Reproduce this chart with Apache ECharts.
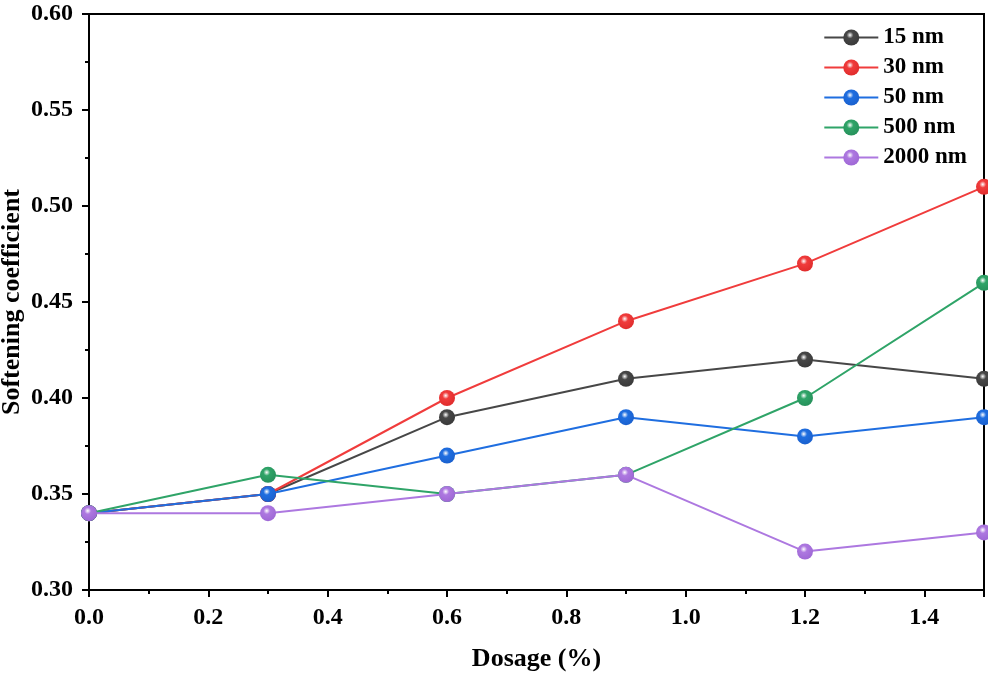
<!DOCTYPE html>
<html>
<head>
<meta charset="utf-8">
<script src="https://cdn.jsdelivr.net/npm/echarts@6/dist/echarts.min.js"></script>
<style>html,body{margin:0;padding:0;background:#fff}#c{width:988px;height:677px}</style>
</head>
<body>
<div id="c"></div>
<script>
const dosage = [0.0, 0.3, 0.6, 0.9, 1.2, 1.5];
const names = ['15 nm', '30 nm', '50 nm', '500 nm', '2000 nm'];
const s15 = [0.34, 0.35, 0.39, 0.41, 0.42, 0.41];
const s30 = [0.34, 0.35, 0.40, 0.44, 0.47, 0.51];
const s50 = [0.34, 0.35, 0.37, 0.39, 0.38, 0.39];
const s500 = [0.34, 0.36, 0.35, 0.36, 0.40, 0.46];
const s2000 = [0.34, 0.34, 0.35, 0.36, 0.32, 0.33];
const colors = ['#474747', '#f03c3c', '#1f6ee0', '#2fa468', '#ad78e0'];
const dark = ['#383838', '#de2a2a', '#1a5fcc', '#268f5a', '#9d66d4'];
const allData = [s15, s30, s50, s500, s2000];

const font = 'Liberation Serif';
const chart = echarts.init(document.getElementById('c'));
const series = allData.map((d, i) => ({
  name: names[i],
  type: 'line',
  data: dosage.map((x, j) => [x, d[j]]),
  symbol: 'circle',
  symbolSize: 16,
  z: 2 + i,
  lineStyle: { color: colors[i], width: 2 },
  itemStyle: {
    color: {
      type: 'radial', x: 0.42, y: 0.35, r: 0.7,
      colorStops: [
        { offset: 0, color: '#ffffff' },
        { offset: 0.3, color: colors[i] },
        { offset: 1, color: dark[i] }
      ]
    }
  },
  emphasis: { disabled: true },
  animation: false
}));

chart.setOption({
  animation: false,
  grid: { left: 89, top: 14, right: 4, bottom: 87, outerBoundsMode: 'none', containLabel: false, show: true, borderColor: '#000', borderWidth: 2, backgroundColor: 'transparent' },
  legend: {
    data: names,
    orient: 'vertical',
    right: 16,
    top: 21,
    itemWidth: 54,
    itemHeight: 20,
    itemGap: 7,
    textStyle: { fontFamily: font, fontWeight: 'bold', fontSize: 23, color: '#000' }
  },
  xAxis: {
    type: 'value',
    min: 0, max: 1.5, interval: 0.2,
    name: 'Dosage (%)',
    nameLocation: 'middle',
    nameGap: 56,
    nameMoveOverlap: false,
    nameTextStyle: { fontFamily: font, fontWeight: 'bold', fontSize: 26, color: '#000' },
    axisLine: { show: true, lineStyle: { color: '#000', width: 2 } },
    axisTick: { show: true, length: 7, lineStyle: { color: '#000', width: 2 } },
    minorTick: { show: true, splitNumber: 2, length: 4, lineStyle: { color: '#000', width: 2 } },
    splitLine: { show: false },
    axisLabel: {
      fontFamily: font, fontWeight: 'bold', fontSize: 24, color: '#000', margin: 16,
      showMaxLabel: false,
      formatter: v => v.toFixed(1)
    }
  },
  yAxis: {
    type: 'value',
    min: 0.30, max: 0.60, interval: 0.05,
    name: 'Softening coefficient',
    nameLocation: 'middle',
    nameGap: 64,
    nameMoveOverlap: false,
    nameTextStyle: { fontFamily: font, fontWeight: 'bold', fontSize: 26, color: '#000' },
    axisLine: { show: true, lineStyle: { color: '#000', width: 2 } },
    axisTick: { show: true, length: 7, lineStyle: { color: '#000', width: 2 } },
    minorTick: { show: true, splitNumber: 2, length: 4, lineStyle: { color: '#000', width: 2 } },
    splitLine: { show: false },
    axisLabel: {
      fontFamily: font, fontWeight: 'bold', fontSize: 24, color: '#000', margin: 16,
      formatter: v => v.toFixed(2)
    }
  },
  series: series
});
</script>
</body>
</html>
